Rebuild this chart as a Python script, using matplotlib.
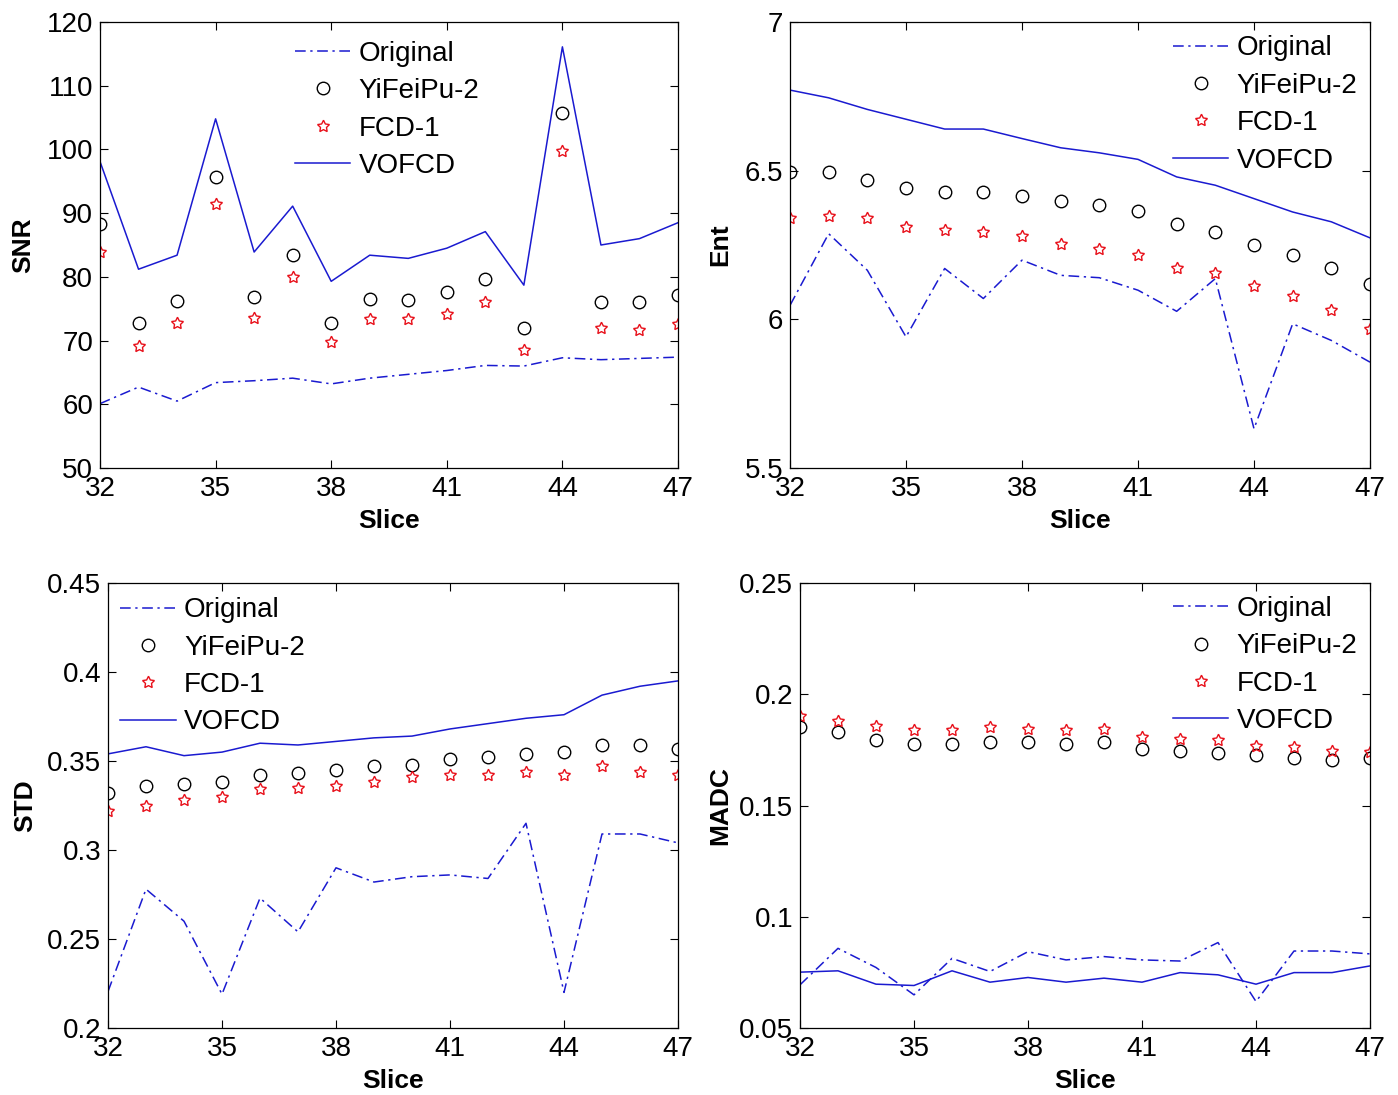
import matplotlib
matplotlib.use("Agg")
import matplotlib.pyplot as plt
from matplotlib.ticker import FuncFormatter

plt.rcParams['font.family'] = ['Liberation Sans', 'DejaVu Sans']

slices = list(range(32, 48))
xticks = [32, 35, 38, 41, 44, 47]
series_names = ['Original', 'YiFeiPu-2', 'FCD-1', 'VOFCD']

# SNR
snr_original = [60.1, 62.7, 60.5, 63.4, 63.7, 64.1, 63.2, 64.1, 64.7, 65.3, 66.1, 66.0, 67.3, 67.0, 67.2, 67.4]
snr_yifeipu = [88.3, 72.8, 76.2, 95.6, 76.8, 83.5, 72.8, 76.5, 76.4, 77.6, 79.7, 72.0, 105.7, 76.0, 76.0, 77.2]
snr_fcd = [83.9, 69.1, 72.7, 91.4, 73.6, 79.9, 69.8, 73.4, 73.4, 74.2, 76.1, 68.5, 99.7, 72.0, 71.6, 72.6]
snr_vofcd = [98.1, 81.2, 83.4, 104.8, 83.9, 91.1, 79.3, 83.4, 82.9, 84.5, 87.1, 78.7, 116.1, 85.0, 86.0, 88.5]
snr_yticks = [50, 60, 70, 80, 90, 100, 110, 120]

# Ent
ent_original = [6.047, 6.288, 6.165, 5.941, 6.171, 6.070, 6.199, 6.148, 6.140, 6.098, 6.027, 6.137, 5.632, 5.985, 5.929, 5.856]
ent_yifeipu = [6.496, 6.496, 6.469, 6.442, 6.429, 6.429, 6.414, 6.397, 6.384, 6.366, 6.320, 6.293, 6.249, 6.218, 6.173, 6.120]
ent_fcd = [6.341, 6.348, 6.341, 6.309, 6.299, 6.294, 6.281, 6.253, 6.235, 6.216, 6.174, 6.156, 6.111, 6.079, 6.031, 5.969]
ent_vofcd = [6.771, 6.745, 6.706, 6.673, 6.640, 6.640, 6.608, 6.577, 6.560, 6.538, 6.479, 6.451, 6.406, 6.361, 6.328, 6.274]
ent_yticks = [5.5, 6, 6.5, 7]

# STD
std_original = [0.2205, 0.278, 0.260, 0.219, 0.273, 0.254, 0.290, 0.282, 0.285, 0.286, 0.284, 0.315, 0.220, 0.309, 0.309, 0.304]
std_yifeipu = [0.332, 0.336, 0.337, 0.338, 0.342, 0.343, 0.345, 0.347, 0.348, 0.351, 0.352, 0.354, 0.355, 0.359, 0.359, 0.357]
std_fcd = [0.322, 0.325, 0.328, 0.330, 0.334, 0.335, 0.336, 0.338, 0.341, 0.342, 0.342, 0.344, 0.342, 0.347, 0.344, 0.342]
std_vofcd = [0.354, 0.358, 0.353, 0.355, 0.360, 0.359, 0.361, 0.363, 0.364, 0.368, 0.371, 0.374, 0.376, 0.387, 0.392, 0.395]
std_yticks = [0.2, 0.25, 0.3, 0.35, 0.4, 0.45]

# MADC
madc_original = [0.0694, 0.0858, 0.0772, 0.0649, 0.0813, 0.0754, 0.0843, 0.0806, 0.0821, 0.0806, 0.0801, 0.0884, 0.0619, 0.0846, 0.0846, 0.0833]
madc_yifeipu = [0.1855, 0.1830, 0.1795, 0.1776, 0.1776, 0.1784, 0.1784, 0.1776, 0.1784, 0.1754, 0.1746, 0.1736, 0.1728, 0.1712, 0.1706, 0.1712]
madc_fcd = [0.1903, 0.1878, 0.1858, 0.1840, 0.1840, 0.1851, 0.1846, 0.1840, 0.1846, 0.1810, 0.1801, 0.1794, 0.1769, 0.1761, 0.1746, 0.1742]
madc_vofcd = [0.0751, 0.0757, 0.0697, 0.0691, 0.0757, 0.0706, 0.0727, 0.0706, 0.0724, 0.0706, 0.0749, 0.0739, 0.0697, 0.0749, 0.0749, 0.0779]
madc_yticks = [0.05, 0.1, 0.15, 0.2, 0.25]

W, H = 1398, 1095
fig = plt.figure(figsize=(W / 100, H / 100), dpi=100)
fig.patch.set_facecolor('white')

BLUE = '#1a1ad0'

def px_axes(left, top, right, bottom):
    return fig.add_axes([left / W, 1 - bottom / H, (right - left) / W, (bottom - top) / H])

panels = [
    # box, data, ylabel, yticks, legend anchor, ylabel x
    ((100, 22, 678, 468), (snr_original, snr_yifeipu, snr_fcd, snr_vofcd), 'SNR', snr_yticks, (0.337, 0.958), -0.112),
    ((790, 22, 1370, 468), (ent_original, ent_yifeipu, ent_fcd, ent_vofcd), 'Ent', ent_yticks, (0.66, 0.970), -0.100),
    ((108, 583, 678, 1028), (std_original, std_yifeipu, std_fcd, std_vofcd), 'STD', std_yticks, (0.021, 0.968), -0.124),
    ((800, 583, 1370, 1028), (madc_original, madc_yifeipu, madc_fcd, madc_vofcd), 'MADC', madc_yticks, (0.654, 0.971), -0.118),
]

for box, data, ylab, yt, anchor, ylx in panels:
    ax = px_axes(*box)
    orig, yfp, fcd, vof = data
    ax.plot(slices, orig, color=BLUE, lw=1.1, dashes=(7, 3, 1.5, 3), label=series_names[0])
    ax.plot(slices, yfp, ls='none', marker='o', ms=9, mfc='none', mec='black', mew=1.0, label=series_names[1])
    ax.plot(slices, fcd, ls='none', marker=(5, 1, 0), ms=9, mfc='none', mec='#e8101a', mew=1.0, label=series_names[2])
    ax.plot(slices, vof, color=BLUE, lw=1.1, ls='-', label=series_names[3])
    ax.set_xlim(32, 47)
    ax.set_ylim(yt[0], yt[-1])
    ax.set_xticks(xticks)
    ax.set_yticks(yt)
    ax.yaxis.set_major_formatter(FuncFormatter(lambda v, p: '%g' % v))
    ax.tick_params(direction='in', length=6, width=0.8, top=True, right=True, labelsize=20, pad=5)
    ax.tick_params(axis='x', pad=6)
    for s in ax.spines.values():
        s.set_linewidth(0.9)
    ax.set_xlabel('Slice', fontsize=19, fontweight='bold')
    ax.xaxis.set_label_coords(0.5, -0.093)
    ax.set_ylabel(ylab, fontsize=19, fontweight='bold')
    ax.yaxis.set_label_coords(ylx, 0.5)
    for lab in ax.get_xticklabels() + ax.get_yticklabels():
        lab.set_clip_on(False)
    leg = ax.legend(loc='upper left', bbox_to_anchor=anchor, frameon=False, fontsize=20,
                    borderpad=0, borderaxespad=0, handlelength=2.0, handletextpad=0.3,
                    labelspacing=0.41)

fig.savefig('out.png', dpi=100, facecolor='white')
